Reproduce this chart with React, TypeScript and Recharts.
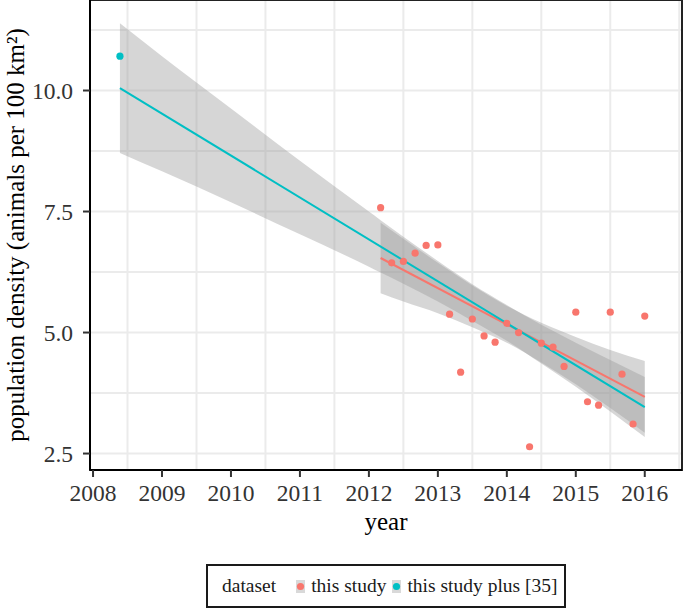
import {
  ComposedChart,
  XAxis,
  YAxis,
  CartesianGrid,
  Area,
  Line,
  Scatter,
  ReferenceArea,
} from "recharts";

const FONT = '"Liberation Serif", "Times New Roman", Times, serif';
const RED = "#F8766D";
const CYAN = "#00BFC4";

// axis ticks + grid positions
const xTicks = [2008, 2009, 2010, 2011, 2012, 2013, 2014, 2015, 2016];
const xGrid = [
  2008, 2008.5, 2009, 2009.5, 2010, 2010.5, 2011, 2011.5, 2012, 2012.5,
  2013, 2013.5, 2014, 2014.5, 2015, 2015.5, 2016, 2016.5,
];
const yTicks = [2.5, 5.0, 7.5, 10.0];
const yGrid = [2.5, 3.75, 5.0, 6.25, 7.5, 8.75, 10.0, 11.25];
const xDomain = [2007.956, 2016.54];
const yDomain = [2.16, 11.87];

// "this study" survey points
const studyYears = [
  2012.17, 2012.33, 2012.5, 2012.67, 2012.83, 2013.0, 2013.17, 2013.33,
  2013.5, 2013.67, 2013.83, 2014.0, 2014.17, 2014.33, 2014.5, 2014.67,
  2014.83, 2015.0, 2015.17, 2015.33, 2015.5, 2015.67, 2015.83, 2016.0,
];
const studyDensity = [
  7.58, 6.44, 6.47, 6.64, 6.8, 6.81, 5.38, 4.18, 5.28, 4.93, 4.8, 5.19, 5.0,
  2.64, 4.78, 4.7, 4.3, 5.42, 3.57, 3.5, 5.42, 4.14, 3.11, 5.34,
];

// extra point from [35]
const extraYears = [2008.39];
const extraDensity = [10.71];

// lm fits + 95% bands
const bandYears = [
  2008.39, 2009, 2010, 2011, 2012, 2012.17, 2012.5, 2013, 2013.5, 2014,
  2014.5, 2015, 2015.5, 2016,
];
const plusLow = [8.71, 8.33, 7.69, 7.03, 6.36, 6.24, 6.01, 5.64, 5.24, 4.83, 4.36, 3.88, 3.37, 2.84];
const plusHigh = [11.39, 10.71, 9.63, 8.55, 7.5, 7.32, 6.98, 6.48, 6.0, 5.57, 5.16, 4.79, 4.43, 4.08];
const studyLow = [null, null, null, null, null, 5.81, 5.64, 5.4, 5.11, 4.79, 4.38, 3.93, 3.44, 2.93];
const studyHigh = [null, null, null, null, null, 7.27, 6.94, 6.44, 5.97, 5.55, 5.2, 4.91, 4.64, 4.41];
const plusFit = [10.05, null, null, null, null, null, null, null, null, null, null, null, null, 3.46];
const studyFit = [null, null, null, null, null, 6.54, null, null, null, null, null, null, null, 3.67];

const legendItems = [
  { label: "this study", color: RED },
  { label: "this study plus [35]", color: CYAN },
];

const bandRows = bandYears.map((year, i) => ({
  year,
  plusBand: [plusLow[i], plusHigh[i]],
  studyBand: studyLow[i] == null ? undefined : [studyLow[i], studyHigh[i]],
  plusFit: plusFit[i],
  studyFit: studyFit[i],
}));
const studyPoints = studyYears.map((year, i) => ({ year, density: studyDensity[i] }));
const extraPoints = extraYears.map((year, i) => ({ year, density: extraDensity[i] }));

const dot = (color: string) => (p: any) =>
  <circle cx={p.cx} cy={p.cy} r={3.6} fill={color} />;

function YTitle({ viewBox }: any) {
  const cx = viewBox.x + 24;
  const cy = viewBox.y + viewBox.height / 2;
  return (
    <text x={cx} y={cy} transform={`rotate(-90 ${cx} ${cy})`} textAnchor="middle"
      fontSize={25} fontFamily={FONT} fill="#000">
      population density (animals per 100 km²)
    </text>
  );
}

function XTitle({ viewBox }: any) {
  return (
    <text x={viewBox.x + viewBox.width / 2} y={viewBox.y + 60} textAnchor="middle"
      fontSize={25} fontFamily={FONT} fill="#000">
      year
    </text>
  );
}

const tickStyle = { fontSize: 23.5, fill: "#333", fontFamily: FONT };

export default function App() {
  return (
    <div style={{ position: "absolute", left: 0, top: 0, width: 684, height: 610, fontFamily: FONT, background: "#fff" }}>
      <ComposedChart width={684} height={610} data={bandRows}
        margin={{ top: 0, right: 2, bottom: 78, left: 0 }}>
        <CartesianGrid stroke="#EBEBEB" strokeWidth={2}
          verticalValues={xGrid} horizontalValues={yGrid} />
        <XAxis type="number" dataKey="year" domain={xDomain} ticks={xTicks} allowDataOverflow
          height={62} tick={tickStyle} tickSize={7} tickMargin={7}
          tickLine={{ stroke: "#333", strokeWidth: 2 }}
          axisLine={{ stroke: "#000", strokeWidth: 2 }}
          label={(p: any) => <XTitle {...p} />} />
        <YAxis type="number" domain={yDomain} ticks={yTicks} allowDataOverflow
          width={90} tick={tickStyle} tickSize={7} tickMargin={10}
          tickFormatter={(v: number) => v.toFixed(1)}
          tickLine={{ stroke: "#333", strokeWidth: 2 }}
          axisLine={{ stroke: "#000", strokeWidth: 2 }}
          label={(p: any) => <YTitle {...p} />} />
        <Area dataKey="studyBand" type="monotone" fill="#999999" fillOpacity={0.4}
          stroke="none" isAnimationActive={false} />
        <Line dataKey="studyFit" type="linear" stroke={RED} strokeWidth={2}
          dot={false} connectNulls isAnimationActive={false} />
        <Area dataKey="plusBand" type="monotone" fill="#999999" fillOpacity={0.4}
          stroke="none" isAnimationActive={false} />
        <Line dataKey="plusFit" type="linear" stroke={CYAN} strokeWidth={2}
          dot={false} connectNulls isAnimationActive={false} />
        <Scatter data={studyPoints} dataKey="density" shape={dot(RED)} isAnimationActive={false} />
        <Scatter data={extraPoints} dataKey="density" shape={dot(CYAN)} isAnimationActive={false} />
        <ReferenceArea x1={xDomain[0]} x2={xDomain[1]} y1={yDomain[0]} y2={yDomain[1]}
          ifOverflow="visible" fill="none" stroke="#222" strokeWidth={2} />
      </ComposedChart>

      <div style={{
        position: "absolute", left: 206, top: 564, width: 360, height: 44,
        boxSizing: "border-box", border: "2px solid #1a1a1a",
        display: "flex", alignItems: "center", paddingLeft: 14,
        fontSize: 19.5, color: "#1a1a1a", whiteSpace: "nowrap",
      }}>
        <span>dataset</span>
        {legendItems.map((item, i) => (
          <span key={item.label} style={{ display: "flex", alignItems: "center", marginLeft: i === 0 ? 20 : 6 }}>
            <svg width={9} height={13} style={{ marginRight: 6 }}>
              <rect width={9} height={13} fill="#D9D9D9" />
              <circle cx={4.5} cy={6.5} r={3.6} fill={item.color} />
            </svg>
            <span>{item.label}</span>
          </span>
        ))}
      </div>
    </div>
  );
}
